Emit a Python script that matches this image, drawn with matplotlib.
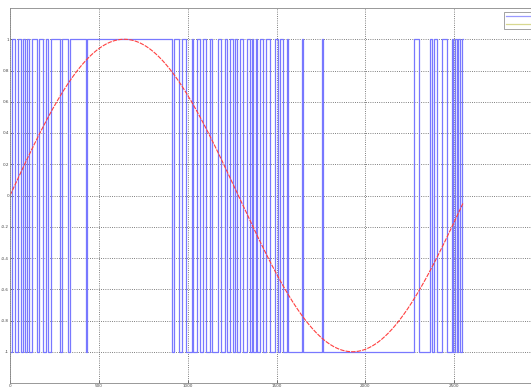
import numpy as np
import matplotlib
matplotlib.use("Agg")
import matplotlib.pyplot as plt
from matplotlib.lines import Line2D

# switching instants of the +/-1 pulse train (sample index)
start_level = -1
switch_times = [
    11, 28, 45, 62, 73, 84, 96, 107, 124, 152, 163, 186, 203, 214, 231,
    281, 293, 327, 338, 428, 434,
    912, 923, 951, 968, 991, 1025, 1030, 1053, 1070, 1087, 1104, 1126, 1137,
    1171, 1188, 1210, 1222, 1239, 1255, 1267, 1278, 1295, 1312, 1334, 1351,
    1362, 1368, 1385, 1391, 1408, 1424, 1441, 1464, 1492, 1509, 1520, 1537,
    1560, 1565, 1644, 1650, 1757, 1762,
    2275, 2303, 2365, 2376, 2387, 2404, 2432, 2460, 2489, 2494, 2506, 2517,
    2523, 2534, 2545,
]
n_samples = 2552

# reference sine
sine_period = 2570
sine_x = np.arange(0, 2550)

ytick_vals = [-1, -0.8, -0.6, -0.4, -0.2, 0, 0.2, 0.4, 0.6, 0.8, 1]
ytick_labels = ['-1', '-0.8', '-0.6', '-0.4', '-0.2', '0', '0.2', '0.4', '0.6', '0.8', '1']
xtick_vals = [0, 500, 1000, 1500, 2000, 2500]

# build the pulse train
edges = [0] + switch_times + [n_samples]
levels = []
lev = start_level
for i in range(len(edges) - 1):
    levels.append(lev)
    lev = -lev
px = np.array(edges, dtype=float)
py = np.array(levels + [levels[-1]], dtype=float)

fig = plt.figure(figsize=(5.31, 3.90), dpi=100)
ax = fig.add_axes([10 / 531, 7 / 390, 533 / 531, 375 / 390])

ax.step(px, py, where='post', color='#7878ff', lw=0.9)
ax.plot(sine_x, np.sin(2 * np.pi * sine_x / sine_period), color='#ff4040',
        lw=0.8, ls=(0, (4, 1)))

ax.set_xlim(0, 3000)
ax.set_ylim(-1.2, 1.2)
ax.set_xticks(xtick_vals)
ax.set_xticklabels([str(v) for v in xtick_vals])
ax.set_yticks(ytick_vals)
ax.set_yticklabels(ytick_labels)
ax.tick_params(direction='in', length=2, width=0.5, labelsize=3, pad=0.6,
               colors='#444444')
ax.grid(True, ls=':', color='#555555', lw=0.6)
for s in ax.spines.values():
    s.set_color('#888888')
    s.set_linewidth(0.6)

# legend box, its labels fall outside the cropped picture
handles = [Line2D([], [], color='#9a9aff', lw=0.9),
           Line2D([], [], color='#d8d890', lw=0.9)]
leg = ax.legend(handles, ['', ''], loc='upper right', fontsize=4,
                handlelength=4.5, handletextpad=0, borderaxespad=0.3,
                fancybox=False, edgecolor='#777777',
                bbox_to_anchor=(0.985, 0.995))
leg.get_frame().set_linewidth(0.6)

fig.savefig('out.png', dpi=100)
